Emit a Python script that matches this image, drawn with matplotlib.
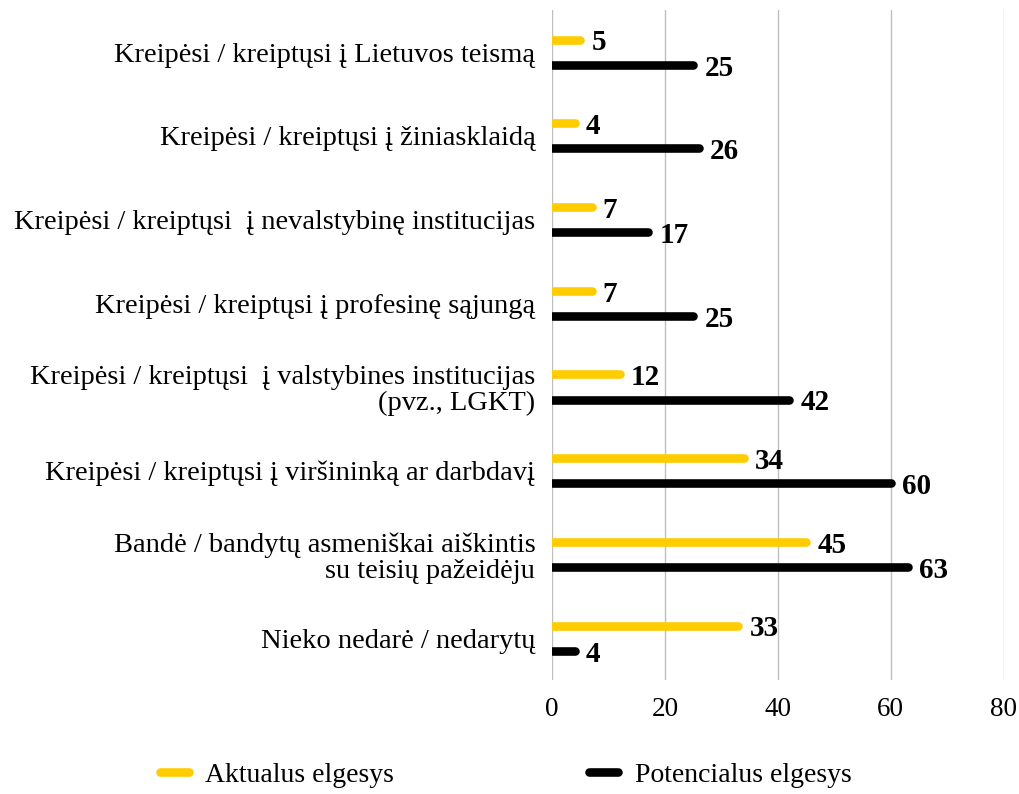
import numpy as np
import matplotlib.pyplot as plt

categories = [
    "Kreipėsi / kreiptųsi į Lietuvos teismą",
    "Kreipėsi / kreiptųsi į žiniasklaidą",
    "Kreipėsi / kreiptųsi  į nevalstybinę institucijas",
    "Kreipėsi / kreiptųsi į profesinę sąjungą",
    "Kreipėsi / kreiptųsi  į valstybines institucijas\n(pvz., LGKT)",
    "Kreipėsi / kreiptųsi į viršininką ar darbdavį",
    "Bandė / bandytų asmeniškai aiškintis\nsu teisių pažeidėju",
    "Nieko nedarė / nedarytų",
]
actual = [5, 4, 7, 7, 12, 34, 45, 33]
potential = [25, 26, 17, 25, 42, 60, 63, 4]
series_names = ["Aktualus elgesys", "Potencialus elgesys"]
xticks = [0, 20, 40, 60, 80]

yellow = "#FFCC00"
black = "#000000"

plt.rcParams['font.family'] = ['Liberation Serif', 'DejaVu Serif']

fig = plt.figure(figsize=(10.19, 7.94), dpi=100)
ax = fig.add_axes([0.5417, 0.1436, 0.4433, 0.8434])

y = np.arange(len(categories))
off = 0.15
lw = 6.2

ax.hlines(y - off, 0, actual, color=yellow, lw=lw, capstyle='round', zorder=3)
ax.hlines(y + off, 0, potential, color=black, lw=lw, capstyle='round', zorder=3)
for i in range(len(categories)):
    ax.text(actual[i] + 2.0, y[i] - off + 0.04, str(actual[i]), fontsize=21,
            fontweight='bold', va='center', ha='left')
    ax.text(potential[i] + 2.0, y[i] + off + 0.04, str(potential[i]), fontsize=21,
            fontweight='bold', va='center', ha='left')

ax.set_xlim(0, 80)
ax.set_ylim(len(categories) - 0.5, -0.5)
ax.set_xticks(xticks)
ax.set_xticklabels([str(t) for t in xticks], fontsize=19.5)
ax.set_yticks(y)
ax.set_yticklabels(categories, fontsize=20.5, ha='right', multialignment='right',
                   linespacing=1.05)
ax.tick_params(axis='both', length=0, pad=12)
ax.grid(axis='x', color='#BFBFBF', lw=1, zorder=0)
ax.set_axisbelow(True)
for s in ax.spines.values():
    s.set_visible(False)

h1, = ax.plot([], [], color=yellow, lw=lw, solid_capstyle='round')
h2, = ax.plot([], [], color=black, lw=lw, solid_capstyle='round')
fig.legend([h1, h2], series_names, loc='center', bbox_to_anchor=(0.496, 0.024),
           ncol=2, frameon=False, fontsize=20, handlelength=1.05,
           columnspacing=7.0, handletextpad=0.6)

fig.savefig("out.png", dpi=100)
